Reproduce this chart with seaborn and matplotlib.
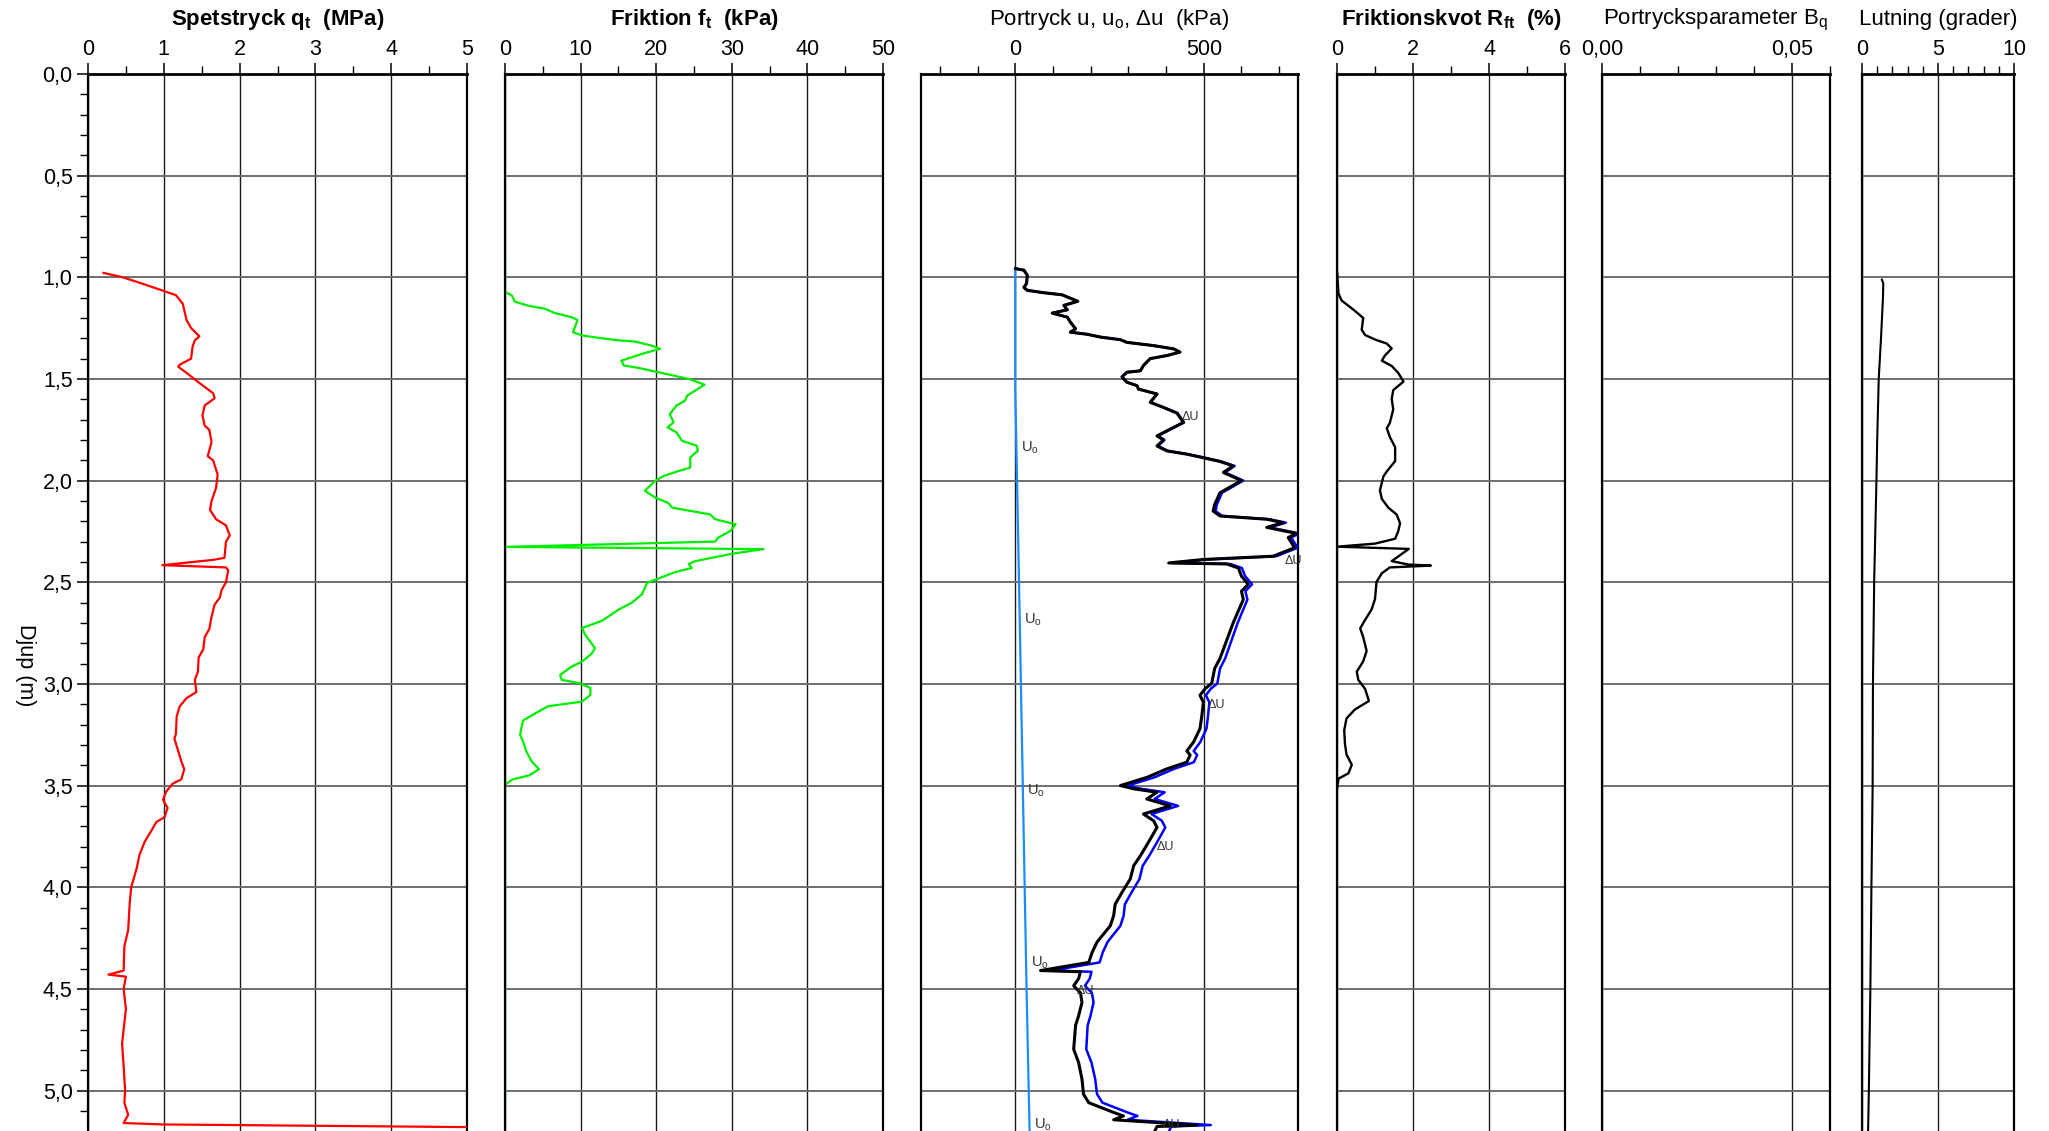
import numpy as np
import pandas as pd
import matplotlib
matplotlib.use("Agg")
import matplotlib.pyplot as plt
import seaborn as sns
from matplotlib.ticker import MultipleLocator, FixedLocator, FuncFormatter

# ---------------- data (depth in m) ----------------
qt_depth = [0.978, 1.00, 1.033, 1.066, 1.088, 1.13, 1.21, 1.25, 1.29, 1.31, 1.34, 1.40, 1.43, 1.44,
            1.47, 1.52, 1.57, 1.595, 1.63, 1.68, 1.73, 1.75, 1.81, 1.88, 1.90, 1.97, 2.035, 2.10,
            2.145, 2.19, 2.22, 2.27, 2.30, 2.38, 2.39, 2.416, 2.427, 2.44, 2.50, 2.54, 2.575, 2.61,
            2.67, 2.73, 2.77, 2.83, 2.87, 2.94, 2.98, 3.04, 3.07, 3.11, 3.16, 3.245, 3.27, 3.33,
            3.38, 3.42, 3.47, 3.49, 3.53, 3.57, 3.61, 3.655, 3.68, 3.72, 3.775, 3.84, 3.91, 4.00,
            4.08, 4.21, 4.29, 4.41, 4.43, 4.44, 4.50, 4.60, 4.70, 4.77, 4.88, 5.00, 5.06, 5.12,
            5.16, 5.167, 5.18]
qt_mpa = [0.20, 0.46, 0.73, 0.99, 1.16, 1.25, 1.30, 1.36, 1.47, 1.41, 1.38, 1.36, 1.21, 1.19,
          1.30, 1.47, 1.65, 1.67, 1.54, 1.51, 1.54, 1.60, 1.63, 1.58, 1.65, 1.71, 1.69, 1.63,
          1.61, 1.69, 1.82, 1.87, 1.82, 1.80, 1.65, 0.98, 1.82, 1.85, 1.82, 1.76, 1.74, 1.67,
          1.63, 1.60, 1.54, 1.52, 1.46, 1.45, 1.41, 1.43, 1.30, 1.21, 1.17, 1.16, 1.14, 1.19,
          1.23, 1.27, 1.23, 1.12, 1.03, 0.99, 1.05, 1.01, 0.90, 0.84, 0.75, 0.68, 0.64, 0.57,
          0.55, 0.53, 0.48, 0.47, 0.27, 0.50, 0.47, 0.50, 0.47, 0.45, 0.47, 0.49, 0.48, 0.53,
          0.47, 0.99, 5.00]

ft_depth = [0.88, 1.072, 1.089, 1.12, 1.14, 1.155, 1.176, 1.196, 1.21, 1.27, 1.286, 1.30, 1.31,
            1.316, 1.336, 1.352, 1.377, 1.41, 1.434, 1.446, 1.467, 1.50, 1.528, 1.582, 1.607,
            1.63, 1.673, 1.714, 1.738, 1.763, 1.804, 1.829, 1.854, 1.886, 1.936, 1.956, 1.977,
            2.00, 2.05, 2.084, 2.11, 2.133, 2.166, 2.19, 2.215, 2.248, 2.28, 2.30, 2.326, 2.337,
            2.36, 2.396, 2.41, 2.43, 2.45, 2.487, 2.503, 2.544, 2.56, 2.60, 2.635, 2.668, 2.69,
            2.725, 2.758, 2.824, 2.85, 2.89, 2.915, 2.956, 2.98, 2.997, 3.02, 3.054, 3.087, 3.11,
            3.145, 3.18, 3.21, 3.25, 3.285, 3.33, 3.38, 3.42, 3.45, 3.47, 3.49, 3.50, 5.10]
ft_kpa = [0, 0, 0.9, 1.3, 3.1, 5.3, 6.6, 8.8, 9.6, 9.0, 10.2, 12.8, 15.0,
          17.2, 19.4, 20.5, 18.1, 15.4, 15.7, 17.7, 20.3, 24.3, 26.4, 24.1, 23.8,
          22.7, 21.8, 22.3, 21.5, 22.7, 23.4, 25.4, 25.5, 24.5, 24.5, 22.7, 21.0,
          19.9, 18.5, 19.9, 21.6, 22.1, 27.1, 27.8, 30.5, 29.8, 28.2, 27.8, 0, 34.2,
          30.0, 25.2, 24.3, 24.7, 22.5, 19.9, 18.8, 18.3, 18.1, 16.8, 15.0, 13.7, 12.8,
          10.2, 10.6, 11.9, 11.5, 10.2, 8.8, 7.3, 7.5, 9.9, 11.3, 11.3, 10.2, 5.7,
          4.0, 2.4, 2.2, 2.0, 2.4, 2.8, 3.5, 4.5, 3.2, 1.0, 0.2, 0, 0]

du_depth = [0.957, 0.965, 0.99, 1.03, 1.05, 1.064, 1.076, 1.086, 1.118, 1.138, 1.16, 1.176, 1.196,
            1.22, 1.253, 1.27, 1.28, 1.294, 1.307, 1.32, 1.336, 1.352, 1.368, 1.385, 1.40, 1.434,
            1.46, 1.467, 1.49, 1.516, 1.533, 1.55, 1.574, 1.615, 1.64, 1.668, 1.714, 1.78, 1.80,
            1.83, 1.854, 1.87, 1.886, 1.906, 1.928, 1.96, 2.00, 2.06, 2.117, 2.15, 2.174, 2.19,
            2.207, 2.23, 2.26, 2.28, 2.33, 2.372, 2.388, 2.405, 2.41, 2.43, 2.47, 2.51, 2.544,
            2.585, 2.64, 2.70, 2.74, 2.81, 2.875, 2.924, 2.998, 3.023, 3.056, 3.09, 3.155, 3.22,
            3.286, 3.33, 3.35, 3.385, 3.418, 3.46, 3.50, 3.516, 3.533, 3.566, 3.60, 3.64, 3.673,
            3.706, 3.78, 3.845, 3.895, 3.96, 4.026, 4.084, 4.14, 4.19, 4.24, 4.27, 4.32, 4.37,
            4.41, 4.416, 4.45, 4.485, 4.52, 4.567, 4.633, 4.68, 4.797, 4.862, 4.944, 5.018, 5.06,
            5.108, 5.125, 5.144, 5.17, 5.177, 5.20]
du_kpa = [0, 23, 32, 30, 23, 32, 76, 124, 166, 129, 138, 98, 138,
          146, 160, 146, 190, 226, 279, 296, 367, 420, 437, 402, 358, 340,
          332, 296, 283, 296, 323, 327, 376, 358, 393, 429, 446, 376, 393,
          376, 402, 455, 495, 543, 578, 552, 600, 543, 529, 525, 543, 667,
          711, 667, 746, 724, 741, 684, 499, 407, 561, 592, 600, 618, 600,
          605, 592, 578, 570, 556, 543, 529, 521, 504, 490, 499, 495, 490,
          473, 455, 464, 455, 402, 349, 279, 314, 376, 349, 411, 340, 367,
          376, 353, 332, 314, 305, 283, 265, 261, 252, 230, 217, 204, 195,
          67, 173, 168, 155, 173, 177, 168, 160, 155, 168, 177, 181, 195,
          261, 287, 261, 481, 376, 370]

u0_depth = [0.957, 1.55, 2.50, 3.50, 4.50, 5.20]
u0_kpa = [0, 0, 10, 20, 30, 38]

rf_depth = [0.97, 1.08, 1.114, 1.14, 1.165, 1.20, 1.258, 1.284, 1.306, 1.326, 1.35, 1.385, 1.41,
            1.436, 1.47, 1.513, 1.555, 1.598, 1.65, 1.717, 1.742, 1.785, 1.836, 1.904, 1.955,
            1.98, 2.048, 2.09, 2.133, 2.167, 2.21, 2.25, 2.286, 2.31, 2.325, 2.336, 2.396, 2.413,
            2.418, 2.427, 2.456, 2.498, 2.583, 2.634, 2.685, 2.727, 2.77, 2.838, 2.889, 2.94,
            2.98, 3.025, 3.084, 3.126, 3.17, 3.228, 3.296, 3.347, 3.398, 3.44, 3.466, 3.517]
rf_pct = [0, 0.04, 0.12, 0.30, 0.47, 0.69, 0.65, 0.74, 1.0, 1.31, 1.44, 1.26, 1.18,
          1.44, 1.61, 1.75, 1.48, 1.44, 1.48, 1.39, 1.31, 1.39, 1.53, 1.53, 1.31,
          1.22, 1.13, 1.18, 1.35, 1.57, 1.66, 1.61, 1.53, 1.0, 0, 1.89, 1.44, 1.88,
          2.47, 1.39, 1.18, 1.04, 1.0, 0.91, 0.74, 0.61, 0.69, 0.78, 0.69, 0.52,
          0.56, 0.74, 0.84, 0.47, 0.25, 0.19, 0.21, 0.25, 0.39, 0.30, 0.04, 0]

lut_depth = [1.01, 1.03, 1.10, 1.30, 1.50, 1.80, 2.00, 2.50, 3.00, 3.50, 4.00, 4.50, 5.00, 5.20]
lut_deg = [1.3, 1.4, 1.38, 1.25, 1.1, 1.0, 0.95, 0.8, 0.72, 0.7, 0.62, 0.55, 0.45, 0.4]

uo_label_depths = [1.837, 2.685, 3.525, 4.37, 5.17]
du_label_depths = [1.689, 2.396, 3.105, 3.80, 4.51, 5.17]
du_label_kpa = [441, 714, 511, 375, 163, 392]

titles = [r"Spetstryck q$_\mathregular{t}$  (MPa)",
          r"Friktion f$_\mathregular{t}$  (kPa)",
          r"Portryck u, u$_\mathregular{o}$, Δu  (kPa)",
          r"Friktionskvot R$_\mathregular{ft}$  (%)",
          r"Portrycksparameter B$_\mathregular{q}$",
          "Lutning (grader)"]
title_bold = [True, True, False, True, False, False]

# ---------------- style ----------------
sns.set_theme(style="white")
plt.rcParams["font.family"] = ["Liberation Sans", "DejaVu Sans"]
plt.rcParams["mathtext.default"] = "regular"
plt.rcParams["axes.unicode_minus"] = False

W, H = 2049, 1131
fig = plt.figure(figsize=(W / 100, H / 100), dpi=100)
TOP = 74
PX_PER_M = 203.3
DMAX = (H - TOP) / PX_PER_M

panel_px = [(88, 467), (505, 883), (921, 1298), (1337, 1565), (1602, 1830), (1862, 2014)]
xlims = [(0, 5), (0, 50), (-250, 750), (0, 6), (0, 0.06), (0, 10)]
majors = [[0, 1, 2, 3, 4, 5], [0, 10, 20, 30, 40, 50], [0, 500], [0, 2, 4, 6], [0, 0.05], [0, 5, 10]]
minor_steps = [0.5, 5, 100, 1, 0.01, 1]

TICK_FS = 15.5
axes = []
for i, (l, r) in enumerate(panel_px):
    ax = fig.add_axes([l / W, 0, (r - l) / W, (H - TOP) / H])
    ax.set_facecolor("white")
    axes.append(ax)

def line(ax, x, y, color, lw, z=3):
    sns.lineplot(x=x, y=y, ax=ax, sort=False, estimator=None, color=color,
                 linewidth=lw, legend=False, zorder=z)

line(axes[0], qt_mpa, qt_depth, "#ff0000", 1.6)
line(axes[1], ft_kpa, ft_depth, "#00ee00", 1.6, z=2.4)

u0_at_du = np.interp(du_depth, u0_depth, u0_kpa)
u_kpa = np.array(du_kpa) + u0_at_du
line(axes[2], u0_kpa, u0_depth, "#1a8cff", 1.6, z=3)
line(axes[2], u_kpa, du_depth, "#0000ff", 1.8, z=4)
line(axes[2], du_kpa, du_depth, "#000000", 2.2, z=5)
line(axes[3], rf_pct, rf_depth, "#000000", 1.7)
line(axes[5], lut_deg, lut_depth, "#000000", 1.5)

# labels on pore pressure panel
for d in uo_label_depths:
    xv = float(np.interp(d, u0_depth, u0_kpa)) + 12
    axes[2].text(xv, d, r"U$_\mathregular{o}$", fontsize=10.5, color="#333333",
                 ha="left", va="center", zorder=6)
for d, v in zip(du_label_depths, du_label_kpa):
    axes[2].text(v, d, "ΔU", fontsize=9, color="#333333", ha="left", va="center", zorder=6)

int_fmt = FuncFormatter(lambda v, p: f"{v:g}")
for i, ax in enumerate(axes):
    ax.set_xlim(*xlims[i])
    ax.set_ylim(DMAX, 0)
    ax.set_xlabel("")
    ax.set_ylabel("")
    ax.xaxis.set_major_locator(FixedLocator(majors[i]))
    ax.xaxis.set_minor_locator(MultipleLocator(minor_steps[i]))
    if i == 4:
        ax.xaxis.set_major_formatter(FuncFormatter(lambda v, p: f"{v:.2f}".replace(".", ",")))
    else:
        ax.xaxis.set_major_formatter(int_fmt)
    ax.yaxis.set_major_locator(MultipleLocator(0.5))
    ax.yaxis.set_minor_locator(MultipleLocator(0.1))
    ax.xaxis.tick_top()
    ax.tick_params(axis="x", which="major", top=True, bottom=False, labeltop=True,
                   labelbottom=False, direction="out", length=8, width=1.1,
                   labelsize=TICK_FS, pad=2.2, colors="black")
    ax.tick_params(axis="x", which="minor", top=True, bottom=False, direction="out",
                   length=5.5, width=1.0, colors="black")
    if i == 0:
        ax.yaxis.set_major_formatter(FuncFormatter(lambda v, p: f"{v:.1f}".replace(".", ",")))
        ax.tick_params(axis="y", which="major", left=True, right=False, labelleft=True,
                       direction="out", length=8, width=1.1, labelsize=TICK_FS, pad=3,
                       colors="black")
        ax.tick_params(axis="y", which="minor", left=True, right=False, direction="out",
                       length=5.5, width=1.0, colors="black")
    else:
        ax.tick_params(axis="y", which="both", left=False, right=False, labelleft=False)
    ax.set_axisbelow(True)
    ax.xaxis.grid(True, which="major", color="#1a1a1a", linewidth=1.0)
    ax.yaxis.grid(True, which="major", color="#6e6e6e", linewidth=1.4)
    ax.xaxis.grid(False, which="minor")
    ax.yaxis.grid(False, which="minor")
    ax.spines["bottom"].set_visible(False)
    ax.spines["top"].set_linewidth(2.0)
    for s in ("left", "right"):
        ax.spines[s].set_linewidth(1.6)
    for s in ("left", "right", "top"):
        ax.spines[s].set_color("black")
        ax.spines[s].set_visible(True)

for i, (l, r) in enumerate(panel_px):
    fig.text((l + r) / 2 / W, 1 - 20 / H, titles[i], ha="center", va="center",
             fontsize=16, fontweight="bold" if title_bold[i] else "normal", color="black")

fig.text(25 / W, 1 - 665 / H, "Djup (m)", rotation=270, ha="center", va="center",
         fontsize=TICK_FS, color="black")

fig.savefig("out.png", dpi=100, facecolor="white")
